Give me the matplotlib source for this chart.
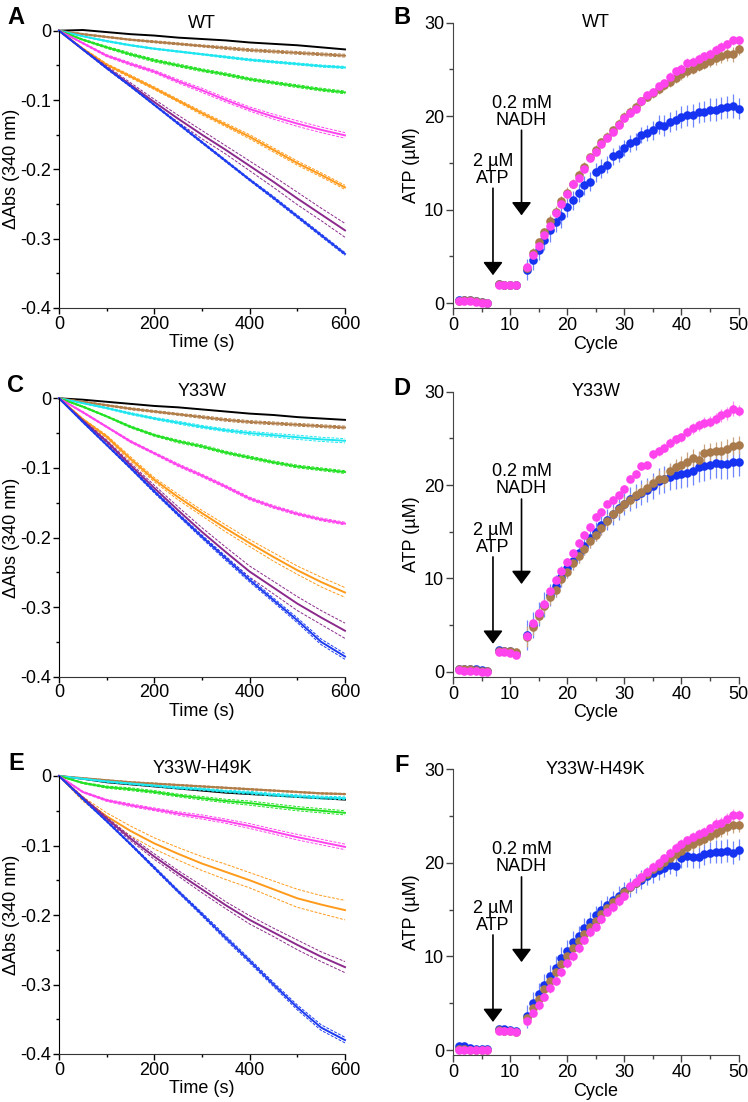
import numpy as np
import matplotlib
matplotlib.use("Agg")
import matplotlib.pyplot as plt
from matplotlib.ticker import MultipleLocator

plt.rcParams['font.family'] = ['Liberation Sans', 'DejaVu Sans']
plt.rcParams['font.size'] = 13

# ---- datos de absorbancia (paneles A, C, E) ----
t = [0, 50, 100, 150, 200, 250, 300, 350, 400, 450, 500, 550, 600]
colores = ['#000000', '#b07c48', '#1ee6f0', '#22e022', '#ff44ee', '#ff9a1a', '#8b2a8c', '#1d3cf0']

A_black = [0, 0.001, -0.002, -0.005, -0.007, -0.010, -0.012, -0.014, -0.017, -0.019, -0.021, -0.024, -0.027]
A_brown = [0, -0.005, -0.009, -0.013, -0.016, -0.019, -0.022, -0.025, -0.028, -0.030, -0.032, -0.034, -0.036]
A_cyan = [0, -0.008, -0.015, -0.021, -0.026, -0.030, -0.034, -0.038, -0.042, -0.045, -0.048, -0.051, -0.053]
A_green = [0, -0.013, -0.024, -0.034, -0.043, -0.050, -0.057, -0.063, -0.070, -0.075, -0.080, -0.085, -0.089]
A_magenta = [0, -0.018, -0.036, -0.048, -0.059, -0.073, -0.086, -0.100, -0.113, -0.124, -0.134, -0.143, -0.151]
A_orange = [0, -0.026, -0.049, -0.066, -0.083, -0.101, -0.119, -0.136, -0.153, -0.172, -0.191, -0.208, -0.226]
A_purple = [0, -0.027, -0.053, -0.078, -0.103, -0.127, -0.150, -0.172, -0.195, -0.218, -0.242, -0.265, -0.288]
A_blue = [0, -0.027, -0.054, -0.080, -0.107, -0.134, -0.161, -0.188, -0.215, -0.241, -0.268, -0.295, -0.322]

A_black_e = [0, 0, 0, 0, 0, 0, 0, 0, 0, 0, 0, 0, 0]
A_brown_e = [0, .001, .001, .001, .0015, .0015, .0015, .002, .002, .002, .002, .002, .002]
A_cyan_e = [0, .0005, .001, .001, .001, .001, .001, .0015, .0015, .0015, .0015, .0015, .0015]
A_green_e = [0, .001, .0015, .002, .002, .002, .002, .002, .002, .002, .002, .002, .002]
A_magenta_e = [0, .001, .0015, .002, .002, .0025, .003, .003, .003, .0035, .004, .004, .004]
A_orange_e = [0, .001, .0015, .002, .002, .002, .0025, .0025, .003, .003, .003, .003, .003]
A_purple_e = [0, .001, .002, .003, .004, .005, .006, .006, .007, .008, .009, .009, .010]
A_blue_e = [0, .0005, .001, .001, .001, .0015, .0015, .0015, .0015, .002, .002, .002, .002]

C_black = [0, -0.002, -0.005, -0.008, -0.011, -0.013, -0.016, -0.019, -0.022, -0.024, -0.027, -0.029, -0.031]
C_brown = [0, -0.005, -0.010, -0.015, -0.019, -0.023, -0.027, -0.031, -0.034, -0.036, -0.038, -0.040, -0.042]
C_cyan = [0, -0.007, -0.014, -0.022, -0.029, -0.035, -0.041, -0.046, -0.050, -0.053, -0.056, -0.059, -0.061]
C_green = [0, -0.012, -0.026, -0.041, -0.053, -0.062, -0.069, -0.078, -0.085, -0.092, -0.098, -0.102, -0.106]
C_magenta = [0, -0.020, -0.041, -0.062, -0.079, -0.096, -0.111, -0.127, -0.144, -0.156, -0.166, -0.174, -0.180]
C_orange = [0, -0.030, -0.055, -0.087, -0.117, -0.142, -0.165, -0.187, -0.208, -0.228, -0.247, -0.264, -0.279]
C_purple = [0, -0.032, -0.062, -0.096, -0.129, -0.161, -0.192, -0.221, -0.249, -0.272, -0.295, -0.315, -0.334]
C_blue = [0, -0.034, -0.067, -0.100, -0.134, -0.167, -0.199, -0.230, -0.261, -0.290, -0.319, -0.350, -0.371]

C_black_e = [0, 0, 0, 0, 0, 0, 0, 0, 0, 0, 0, 0, 0]
C_brown_e = [0, .001, .001, .0015, .0015, .0015, .002, .002, .002, .002, .002, .002, .002]
C_cyan_e = [0, .0005, .001, .0015, .0015, .002, .002, .002, .0025, .0025, .003, .003, .003]
C_green_e = [0, .001, .001, .0015, .0015, .002, .002, .002, .002, .002, .002, .002, .002]
C_magenta_e = [0, .001, .001, .0015, .0015, .002, .002, .002, .002, .002, .002, .002, .002]
C_orange_e = [0, .001, .002, .003, .003, .004, .004, .005, .005, .006, .006, .007, .007]
C_purple_e = [0, .001, .002, .003, .004, .005, .006, .007, .008, .009, .010, .010, .011]
C_blue_e = [0, .001, .001, .0015, .002, .002, .0025, .003, .003, .003, .0035, .004, .004]

E_black = [0, -0.004, -0.009, -0.012, -0.015, -0.018, -0.021, -0.024, -0.026, -0.028, -0.030, -0.032, -0.034]
E_brown = [0, -0.003, -0.006, -0.009, -0.011, -0.013, -0.015, -0.017, -0.019, -0.021, -0.023, -0.025, -0.026]
E_cyan = [0, -0.004, -0.008, -0.011, -0.014, -0.017, -0.019, -0.022, -0.024, -0.027, -0.029, -0.031, -0.032]
E_green = [0, -0.010, -0.016, -0.019, -0.023, -0.028, -0.032, -0.036, -0.039, -0.043, -0.047, -0.050, -0.053]
E_magenta = [0, -0.023, -0.035, -0.042, -0.048, -0.054, -0.059, -0.065, -0.072, -0.080, -0.088, -0.095, -0.102]
E_orange = [0, -0.033, -0.058, -0.079, -0.097, -0.112, -0.126, -0.138, -0.150, -0.163, -0.176, -0.185, -0.193]
E_purple = [0, -0.031, -0.061, -0.090, -0.116, -0.140, -0.163, -0.186, -0.207, -0.225, -0.243, -0.260, -0.275]
E_blue = [0, -0.033, -0.065, -0.098, -0.132, -0.166, -0.199, -0.233, -0.266, -0.300, -0.333, -0.362, -0.380]

E_black_e = [0, 0, 0, 0, 0, 0, 0, 0, 0, 0, 0, 0, 0]
E_brown_e = [0, .0005, .0005, .001, .001, .001, .001, .001, .001, .001, .001, .001, .001]
E_cyan_e = [0, .0005, .001, .001, .001, .0015, .0015, .0015, .002, .002, .002, .002, .002]
E_green_e = [0, .001, .0015, .002, .002, .002, .0025, .0025, .003, .003, .003, .003, .003]
E_magenta_e = [0, .001, .0015, .002, .002, .0025, .003, .003, .0035, .0035, .004, .004, .004]
E_orange_e = [0, .003, .005, .007, .008, .009, .010, .011, .011, .012, .013, .013, .014]
E_purple_e = [0, .001, .002, .003, .004, .004, .005, .005, .006, .006, .007, .007, .008]
E_blue_e = [0, .001, .001, .0015, .002, .002, .0025, .003, .003, .003, .0035, .004, .004]

# ---- datos de ATP (paneles B, D, F) ----
cyc = [1, 2, 3, 4, 5, 6, 8, 9, 10, 11, 13, 14, 15, 16, 17, 18, 19, 20, 21, 22, 23, 24, 25, 26, 27, 28, 29, 30,
       31, 32, 33, 34, 35, 36, 37, 38, 39, 40, 41, 42, 43, 44, 45, 46, 47, 48, 49, 50]
col_atp = ['#1533f0', '#a97a4c', '#ff44ee']
col_err = ['#6f86ff', '#c9a37e', '#ff8cf2']

B_blue = [0.3, 0.4, 0.4, 0.2, 0.1, 0.0, 2.1, 2.0, 1.9, 2.0,
          3.6, 4.6, 5.7, 6.8, 7.8, 8.7, 9.3, 10.3, 11.0, 11.8, 12.6, 13.0, 14.0, 14.4, 14.8, 15.7, 16.0, 16.6, 17.1, 17.3,
          18.0, 18.2, 18.5, 19.1, 19.0, 19.4, 19.6, 19.9, 20.1, 20.1, 20.4, 20.5, 20.7, 20.7, 20.9, 21.0, 21.1, 20.8]
B_brown = [0.2, 0.3, 0.3, 0.2, 0.1, 0.0, 2.1, 2.0, 2.0, 2.0,
           3.8, 5.4, 6.5, 7.6, 8.8, 9.8, 10.9, 11.8, 12.8, 13.7, 14.6, 15.6, 16.4, 17.2, 17.8, 18.5, 19.2, 19.9, 20.5, 21.0,
           21.6, 22.1, 22.5, 22.9, 23.3, 23.7, 24.1, 24.5, 24.8, 25.1, 25.4, 25.6, 25.9, 26.2, 26.4, 26.6, 26.6, 27.2]
B_pink = [0.2, 0.2, 0.2, 0.1, 0.0, 0.0, 2.0, 2.0, 1.9, 2.0,
          3.9, 5.2, 6.1, 7.3, 8.3, 9.6, 10.6, 11.7, 12.7, 13.4, 14.4, 15.5, 16.2, 17.0, 17.7, 18.3, 19.1, 19.8, 20.3, 20.8,
          21.6, 22.3, 22.6, 23.2, 23.5, 24.2, 24.8, 25.1, 25.7, 25.8, 26.1, 26.4, 26.7, 27.1, 27.4, 27.7, 28.1, 28.1]
B_blue_err = [0.1, 0.1, 0.1, 0.1, 0.1, 0.1, 0.15, 0.15, 0.15, 0.15,
              1.1, 1.0, 1.1, 1.1, 1.2, 1.1, 1.2, 1.1, 1.0, 1.0, 1.0, 1.0, 1.0, 1.0, 0.9, 0.9, 0.9, 0.9, 0.9, 0.9,
              0.9, 0.9, 1.0, 1.0, 1.1, 1.1, 1.1, 1.2, 1.1, 1.2, 1.1, 1.1, 1.2, 1.2, 1.2, 1.2, 1.3, 1.1]
B_brown_err = [0.1, 0.1, 0.1, 0.1, 0.1, 0.1, 0.15, 0.15, 0.15, 0.15,
               0.5, 0.5, 0.5, 0.5, 0.6, 0.6, 0.6, 0.6, 0.5, 0.5, 0.5, 0.5, 0.5, 0.5, 0.5, 0.5, 0.5, 0.5, 0.5, 0.5,
               0.5, 0.5, 0.5, 0.5, 0.5, 0.6, 0.6, 0.6, 0.6, 0.6, 0.6, 0.6, 0.6, 0.7, 0.7, 0.7, 0.8, 0.7]
B_pink_err = [0.1, 0.1, 0.1, 0.1, 0.1, 0.1, 0.1, 0.1, 0.1, 0.1,
              0.4, 0.4, 0.4, 0.4, 0.4, 0.4, 0.4, 0.4, 0.4, 0.4, 0.4, 0.4, 0.4, 0.4, 0.4, 0.4, 0.4, 0.4, 0.4, 0.4,
              0.4, 0.4, 0.4, 0.4, 0.5, 0.5, 0.5, 0.5, 0.5, 0.5, 0.5, 0.5, 0.5, 0.5, 0.5, 0.5, 0.5, 0.5]

D_blue = [0.3, 0.3, 0.3, 0.3, 0.2, 0.1, 2.3, 2.2, 2.2, 2.0,
          3.9, 5.0, 6.2, 7.2, 8.2, 9.2, 10.2, 11.1, 11.9, 12.7, 13.5, 14.3, 15.0, 15.7, 16.3, 16.9, 17.5, 18.0, 18.5, 18.8,
          19.2, 19.5, 19.9, 20.4, 20.6, 20.9, 21.1, 21.2, 21.3, 21.5, 21.9, 22.0, 22.2, 22.4, 22.3, 22.3, 22.5, 22.5]
D_brown = [0.3, 0.3, 0.3, 0.2, 0.1, 0.1, 2.2, 2.2, 2.2, 2.1,
           3.75, 4.8, 6.0, 7.0, 8.0, 8.8, 9.9, 10.7, 11.6, 12.4, 13.2, 14.0, 14.7, 15.4, 16.2, 16.9, 17.4, 18.0, 18.4, 18.9,
           19.3, 19.7, 20.2, 20.7, 20.7, 21.5, 21.9, 22.1, 22.5, 22.9, 22.7, 23.4, 23.5, 23.6, 23.7, 23.9, 24.2, 24.3]
D_pink = [0.2, 0.1, 0.1, 0.1, 0.0, 0.0, 2.1, 2.1, 2.0, 1.8,
          3.8, 5.2, 6.25, 7.3, 8.6, 9.8, 10.8, 11.8, 12.7, 13.8, 14.7, 15.5, 16.6, 17.1, 18.0, 18.4, 18.9, 19.6, 20.7, 21.2,
          22.0, 22.1, 23.3, 23.6, 24.0, 24.5, 24.9, 25.1, 25.7, 26.1, 26.4, 26.7, 26.8, 27.1, 27.5, 27.7, 28.2, 27.95]
D_blue_err = [0.1, 0.1, 0.1, 0.1, 0.1, 0.1, 0.15, 0.15, 0.15, 0.15,
              1.6, 1.4, 1.3, 1.3, 1.2, 1.2, 1.1, 1.1, 1.0, 1.0, 1.0, 1.0, 1.0, 1.1, 1.1, 1.2, 1.2, 1.2, 1.3, 1.3,
              1.3, 1.3, 1.4, 1.4, 1.4, 1.4, 1.5, 1.5, 1.5, 1.5, 1.6, 1.6, 1.6, 1.6, 1.6, 1.6, 1.6, 1.5]
D_brown_err = [0.1, 0.1, 0.1, 0.1, 0.1, 0.1, 0.15, 0.15, 0.15, 0.15,
               1.1, 0.9, 0.8, 0.8, 0.8, 0.8, 0.7, 0.7, 0.7, 0.7, 0.7, 0.7, 0.7, 0.7, 0.7, 0.7, 0.8, 0.8, 0.8, 0.8,
               0.8, 0.8, 0.8, 0.9, 0.9, 0.9, 0.9, 1.0, 1.0, 1.0, 1.0, 1.0, 1.0, 1.0, 1.0, 1.0, 1.0, 1.0]
D_pink_err = [0.1, 0.1, 0.1, 0.1, 0.1, 0.1, 0.1, 0.1, 0.1, 0.1,
              0.4, 0.4, 0.4, 0.4, 0.4, 0.4, 0.4, 0.4, 0.4, 0.4, 0.4, 0.4, 0.4, 0.4, 0.4, 0.4, 0.4, 0.4, 0.4, 0.4,
              0.4, 0.4, 0.5, 0.5, 0.5, 0.5, 0.5, 0.5, 0.5, 0.6, 0.6, 0.6, 0.6, 0.6, 0.7, 0.7, 0.8, 0.6]

F_blue = [0.4, 0.4, 0.2, 0.1, 0.1, 0.1, 2.3, 2.3, 2.1, 2.0,
          3.6, 5.0, 6.0, 6.9, 7.9, 8.8, 9.8, 10.6, 11.5, 12.2, 13.0, 13.7, 14.4, 15.0, 15.5, 16.0, 16.5, 17.0, 17.4, 17.8,
          18.2, 18.6, 18.9, 19.2, 19.5, 19.8, 19.7, 20.5, 20.7, 20.6, 20.6, 20.9, 21.1, 21.2, 21.2, 21.3, 21.1, 21.4]
F_brown = [0.1, 0.1, 0.0, 0.0, 0.0, 0.0, 2.1, 2.0, 2.0, 1.9,
           3.4, 4.5, 5.5, 6.5, 7.4, 8.3, 9.2, 10.0, 10.9, 11.7, 12.4, 13.1, 13.8, 14.5, 15.2, 15.8, 16.3, 16.9, 17.4, 17.9,
           18.4, 18.8, 19.3, 19.7, 20.1, 20.5, 20.9, 21.3, 21.7, 22.0, 22.3, 22.6, 22.9, 23.2, 23.5, 23.8, 24.0, 24.1]
F_pink = [0.0, 0.0, 0.0, 0.0, 0.0, 0.0, 2.0, 2.0, 2.0, 1.9,
          3.1, 4.0, 4.8, 5.7, 6.6, 7.4, 8.3, 9.3, 10.0, 10.9, 11.8, 12.6, 13.2, 14.0, 14.8, 15.3, 15.9, 16.5, 17.5, 18.0,
          18.5, 19.0, 19.6, 20.0, 20.5, 21.1, 21.6, 22.0, 22.4, 22.8, 23.1, 23.3, 23.7, 24.2, 24.3, 24.7, 25.1, 25.1]
F_blue_err = [0.1, 0.1, 0.1, 0.1, 0.1, 0.1, 0.15, 0.15, 0.15, 0.15,
              1.2, 1.2, 1.2, 1.2, 1.2, 1.2, 1.2, 1.2, 1.2, 1.1, 1.1, 1.1, 1.0, 1.0, 1.0, 1.0, 1.0, 1.0, 1.0, 1.0,
              1.0, 1.0, 1.0, 1.0, 1.0, 1.0, 1.1, 1.1, 1.1, 1.1, 1.1, 1.1, 1.1, 1.2, 1.2, 1.2, 1.2, 1.1]
F_brown_err = [0.1, 0.1, 0.1, 0.1, 0.1, 0.1, 0.1, 0.1, 0.1, 0.1,
               0.6, 0.6, 0.6, 0.6, 0.6, 0.6, 0.6, 0.6, 0.6, 0.6, 0.6, 0.6, 0.6, 0.6, 0.6, 0.6, 0.6, 0.6, 0.6, 0.6,
               0.6, 0.6, 0.6, 0.6, 0.6, 0.6, 0.6, 0.7, 0.7, 0.7, 0.7, 0.7, 0.7, 0.7, 0.7, 0.8, 0.8, 0.8]
F_pink_err = [0.1, 0.1, 0.1, 0.1, 0.1, 0.1, 0.1, 0.1, 0.1, 0.1,
              0.5, 0.5, 0.5, 0.5, 0.5, 0.5, 0.5, 0.5, 0.5, 0.5, 0.5, 0.5, 0.5, 0.5, 0.5, 0.5, 0.5, 0.5, 0.5, 0.5,
              0.5, 0.5, 0.5, 0.5, 0.5, 0.5, 0.5, 0.5, 0.5, 0.5, 0.5, 0.5, 0.5, 0.6, 0.6, 0.6, 0.7, 0.6]

W, H = 748, 1102
fig = plt.figure(figsize=(W / 100, H / 100), dpi=100)


def caja(x0, top, x1, bottom):
    # caja en pixeles -> fraccion de figura
    return [x0 / W, 1 - bottom / H, (x1 - x0) / W, (bottom - top) / H]


def panel_abs(box, curvas, errores, titulo):
    ax = fig.add_axes(caja(*box))
    for c, y, e in zip(colores, curvas, errores):
        y = np.array(y)
        e = np.array(e)
        if e.max() > 0:
            ax.plot(t, y + e, color=c, lw=0.7, ls=(0, (3, 1.5)), clip_on=False)
            ax.plot(t, y - e, color=c, lw=0.7, ls=(0, (3, 1.5)), clip_on=False)
        ax.plot(t, y, color=c, lw=1.4, clip_on=False)
    ax.set_xlim(0, 600)
    ax.set_ylim(-0.4, 0)
    ax.set_xticks([0, 200, 400, 600])
    ax.xaxis.set_minor_locator(MultipleLocator(100))
    ax.set_yticks([0, -0.1, -0.2, -0.3, -0.4])
    ax.set_yticklabels(['0', '-0.1', '-0.2', '-0.3', '-0.4'])
    ax.yaxis.set_minor_locator(MultipleLocator(0.05))
    ax.tick_params(which='major', direction='out', length=4, width=1, pad=1.5)
    ax.tick_params(which='minor', direction='out', length=2.5, width=1)
    for s in ['top', 'right']:
        ax.spines[s].set_visible(False)
    ax.spines['left'].set_color('k')
    ax.spines['bottom'].set_color('#333333')
    ax.set_xlabel('Time (s)', labelpad=1)
    ax.set_ylabel('\u0394Abs (340 nm)', labelpad=0)
    ax.text(0.5, 1.026, titulo, transform=ax.transAxes, ha='center', va='center')
    return ax


def panel_atp(box, series, errores, titulo):
    ax = fig.add_axes(caja(*box))
    for c, ec, y, e in zip(col_atp, col_err, series, errores):
        cont = ax.errorbar(cyc, y, yerr=e, fmt='o', ms=6.2, mew=0, color=c, ecolor=ec,
                           elinewidth=0.9, capsize=3, capthick=0.9)
        for art in cont.get_children():
            art.set_clip_on(False)
    ax.set_xlim(0, 50)
    ax.set_ylim(-0.55, 30)
    ax.set_xticks([0, 10, 20, 30, 40, 50])
    ax.xaxis.set_minor_locator(MultipleLocator(5))
    ax.set_yticks([0, 10, 20, 30])
    ax.yaxis.set_minor_locator(MultipleLocator(5))
    ax.tick_params(which='major', direction='out', length=5, width=1, pad=1.5, color='#444444')
    ax.tick_params(which='minor', direction='out', length=3, width=1, color='#444444')
    for s in ['top', 'right']:
        ax.spines[s].set_visible(False)
    for s in ['left', 'bottom']:
        ax.spines[s].set_color('#444444')
    ax.set_xlabel('Cycle', labelpad=1)
    ax.set_ylabel('ATP (\u00b5M)', labelpad=3)
    ax.text(0.5, 1.0, titulo, transform=ax.transAxes, ha='center', va='center')
    # flechas de adicion
    flecha = dict(arrowstyle='-|>,head_length=0.8,head_width=0.6', color='k', lw=1.2,
                  shrinkA=0, shrinkB=0, mutation_scale=10)
    ax.annotate('', xy=(12, 9.4), xytext=(12, 18.5), arrowprops=flecha)
    ax.annotate('', xy=(7, 3.0), xytext=(7, 12.3), arrowprops=flecha)
    ax.text(12, 20.5, '0.2 mM\nNADH', ha='center', va='center', linespacing=1.0)
    ax.text(7, 14.2, '2 \u00b5M\nATP', ha='center', va='center', linespacing=1.0)
    return ax


panel_abs((59, 30.7, 345, 308),
          [A_black, A_brown, A_cyan, A_green, A_magenta, A_orange, A_purple, A_blue],
          [A_black_e, A_brown_e, A_cyan_e, A_green_e, A_magenta_e, A_orange_e, A_purple_e, A_blue_e], 'WT')
panel_abs((59, 398.3, 345, 676.7),
          [C_black, C_brown, C_cyan, C_green, C_magenta, C_orange, C_purple, C_blue],
          [C_black_e, C_brown_e, C_cyan_e, C_green_e, C_magenta_e, C_orange_e, C_purple_e, C_blue_e], 'Y33W')
panel_abs((59, 776, 345, 1054),
          [E_black, E_brown, E_cyan, E_green, E_magenta, E_orange, E_purple, E_blue],
          [E_black_e, E_brown_e, E_cyan_e, E_green_e, E_magenta_e, E_orange_e, E_purple_e, E_blue_e], 'Y33W-H49K')

panel_atp((453, 22.7, 738.5, 308.4), [B_blue, B_brown, B_pink], [B_blue_err, B_brown_err, B_pink_err], 'WT')
panel_atp((453, 391.7, 738.5, 676.9), [D_blue, D_brown, D_pink], [D_blue_err, D_brown_err, D_pink_err], 'Y33W')
panel_atp((453, 769.3, 738.5, 1055.2), [F_blue, F_brown, F_pink], [F_blue_err, F_brown_err, F_pink_err], 'Y33W-H49K')

# letras de panel
for letra, x, y in [('A', 16, 18), ('B', 401.5, 17), ('C', 16, 386), ('D', 401.5, 388.7),
                    ('E', 16, 763), ('F', 401.5, 765.7)]:
    fig.text(x / W, 1 - y / H, letra, fontsize=17, fontweight='bold', ha='center', va='center')

fig.savefig('out.png', dpi=100)
